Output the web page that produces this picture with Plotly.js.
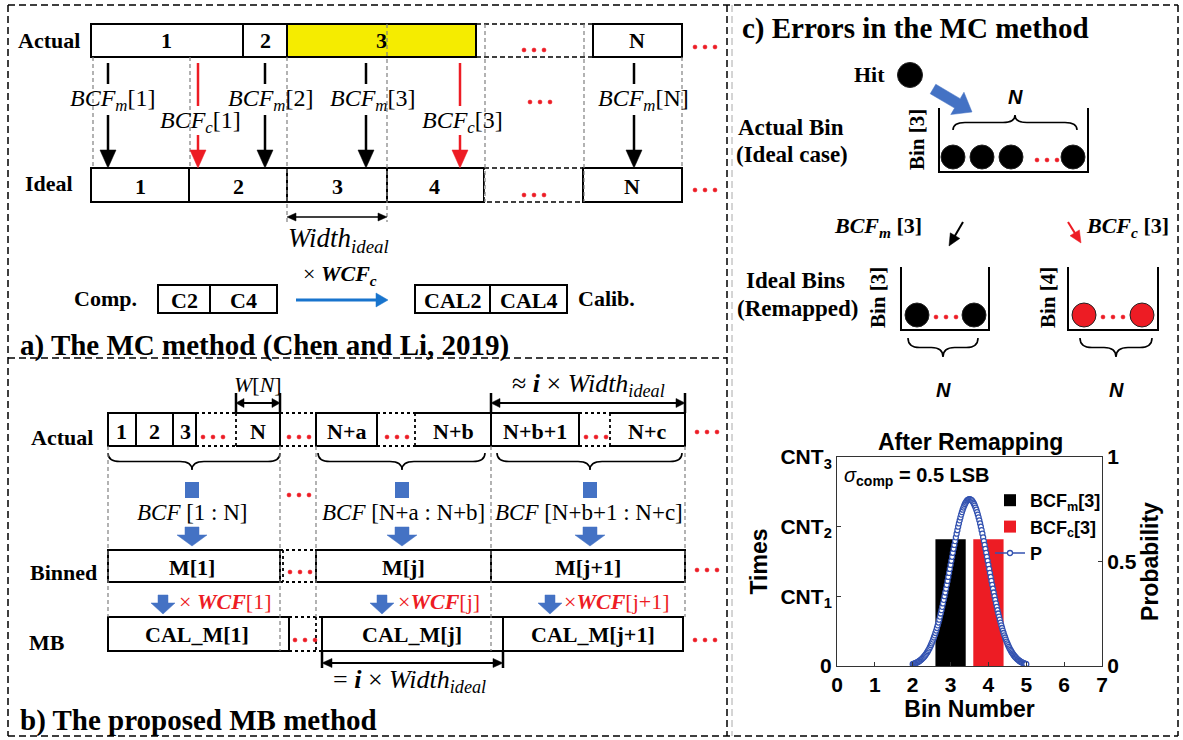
<!DOCTYPE html>
<html><head><meta charset="utf-8">
<script src="https://cdn.plot.ly/plotly-3.0.1.min.js"></script>
<style>html,body{margin:0;padding:0;background:#fff}</style>
</head><body><div id="chart" style="width:1183px;height:740px"></div>
<script>
// ---------------- chart data (panel c, "After Remapping") ----------------
const barNames = ['BCF<sub>m</sub>[3]', 'BCF<sub>c</sub>[3]'];
const barBins = [3, 4];
const barTimes = [1.82, 1.82];
const xTicks = [0, 1, 2, 3, 4, 5, 6, 7];
const timesTickVals = [0, 1, 2, 3];
const timesTickText = ['0', 'CNT<sub>1</sub>', 'CNT<sub>2</sub>', 'CNT<sub>3</sub>'];
const probTickVals = [0, 0.5, 1];
const probTickText = ['0', '0.5', '1'];
const pName = 'P';
const pBins = [
2,2.02,2.04,2.06,2.08,2.1,2.12,2.14,2.16,2.18,
2.2,2.22,2.24,2.26,2.28,2.3,2.32,2.34,2.36,2.38,
2.4,2.42,2.44,2.46,2.48,2.5,2.52,2.54,2.56,2.58,
2.6,2.62,2.64,2.66,2.68,2.7,2.72,2.74,2.76,2.78,
2.8,2.82,2.84,2.86,2.88,2.9,2.92,2.94,2.96,2.98,
3,3.02,3.04,3.06,3.08,3.1,3.12,3.14,3.16,3.18,
3.2,3.22,3.24,3.26,3.28,3.3,3.32,3.34,3.36,3.38,
3.4,3.42,3.44,3.46,3.48,3.5,3.52,3.54,3.56,3.58,
3.6,3.62,3.64,3.66,3.68,3.7,3.72,3.74,3.76,3.78,
3.8,3.82,3.84,3.86,3.88,3.9,3.92,3.94,3.96,3.98,
4,4.02,4.04,4.06,4.08,4.1,4.12,4.14,4.16,4.18,
4.2,4.22,4.24,4.26,4.28,4.3,4.32,4.34,4.36,4.38,
4.4,4.42,4.44,4.46,4.48,4.5,4.52,4.54,4.56,4.58,
4.6,4.62,4.64,4.66,4.68,4.7,4.72,4.74,4.76,4.78,
4.8,4.82,4.84,4.86,4.88,4.9,4.92,4.94,4.96,4.98,
5];
const pValues = [
0.0089,0.0100,0.0112,0.0126,0.0141,0.0158,0.0177,0.0197,0.0220,0.0245,
0.0272,0.0301,0.0333,0.0368,0.0407,0.0448,0.0493,0.0541,0.0593,0.0649,
0.0709,0.0774,0.0843,0.0917,0.0996,0.1080,0.1169,0.1263,0.1363,0.1468,
0.1579,0.1696,0.1818,0.1946,0.2079,0.2218,0.2363,0.2513,0.2669,0.2829,
0.2995,0.3165,0.3339,0.3517,0.3699,0.3884,0.4071,0.4261,0.4453,0.4646,
0.4839,0.5033,0.5226,0.5417,0.5607,0.5794,0.5977,0.6157,0.6332,0.6501,
0.6664,0.6821,0.6970,0.7111,0.7243,0.7365,0.7478,0.7581,0.7672,0.7752,
0.7821,0.7877,0.7922,0.7953,0.7972,0.7979,0.7972,0.7953,0.7922,0.7877,
0.7821,0.7752,0.7672,0.7581,0.7478,0.7365,0.7243,0.7111,0.6970,0.6821,
0.6664,0.6501,0.6332,0.6157,0.5977,0.5794,0.5607,0.5417,0.5226,0.5033,
0.4839,0.4646,0.4453,0.4261,0.4071,0.3884,0.3699,0.3517,0.3339,0.3165,
0.2995,0.2829,0.2669,0.2513,0.2363,0.2218,0.2079,0.1946,0.1818,0.1696,
0.1579,0.1468,0.1363,0.1263,0.1169,0.1080,0.0996,0.0917,0.0843,0.0774,
0.0709,0.0649,0.0593,0.0541,0.0493,0.0448,0.0407,0.0368,0.0333,0.0301,
0.0272,0.0245,0.0220,0.0197,0.0177,0.0158,0.0141,0.0126,0.0112,0.0100,
0.0089];

// ---------------- styles ----------------
const W = 1183, H = 740;
const SERIF = '"Liberation Serif", "Times New Roman", serif';
const SANS = '"Liberation Sans", Arial, sans-serif';
const BLK = '#000000', RED = '#ed1c24', BLUE = '#4472c4', BLUE2 = '#1874cd', GREY = '#808080', YEL = '#f5ec00', PBLUE = '#3352b0';
const barColors = [BLK, RED];

const X = x => x / W, Y = y => 1 - y / H;
const pt = (x, y) => X(x).toFixed(5) + ',' + Y(y).toFixed(5);
const shapes = [], ann = [];

function line(x0, y0, x1, y1, c, w, dash) {
  shapes.push({type:'line', xref:'paper', yref:'paper', x0:X(x0), y0:Y(y0), x1:X(x1), y1:Y(y1),
    line:{color:c||BLK, width:w||2, dash:dash||'solid'}});
}
function rect(x0, y0, x1, y1, fill, c, w, dash) {
  shapes.push({type:'rect', xref:'paper', yref:'paper', x0:X(x0), y0:Y(y0), x1:X(x1), y1:Y(y1),
    fillcolor:fill||'white', line:{color:c||BLK, width:(w===undefined?2:w), dash:dash||'solid'}});
}
function poly(pts, fill) {
  shapes.push({type:'path', xref:'paper', yref:'paper', path:'M' + pts.map(p => pt(p[0], p[1])).join(' L') + ' Z',
    fillcolor:fill, line:{color:fill, width:0.5}});
}
function pline(pts, c, w) {
  shapes.push({type:'path', xref:'paper', yref:'paper', path:'M' + pts.map(p => pt(p[0], p[1])).join(' L'),
    fillcolor:'rgba(0,0,0,0)', line:{color:c||BLK, width:w||2}});
}
function circ(cx, cy, r, fill) {
  shapes.push({type:'circle', xref:'paper', yref:'paper', x0:X(cx-r), x1:X(cx+r), y0:Y(cy+r), y1:Y(cy-r),
    fillcolor:fill, line:{color:'#222', width:1}});
}
function dots(cx, cy) {
  [-10, 0, 10].forEach(d => shapes.push({type:'circle', xref:'paper', yref:'paper',
    x0:X(cx+d-2), x1:X(cx+d+2), y0:Y(cy+2), y1:Y(cy-2), fillcolor:RED, line:{color:RED, width:0.5}}));
}
function arrow(x0, y0, x1, y1, c, w, hl, hw) {
  const dx = x1-x0, dy = y1-y0, L = Math.hypot(dx, dy), ux = dx/L, uy = dy/L;
  const bx = x1-ux*hl, by = y1-uy*hl;
  line(x0, y0, bx + ux*1, by + uy*1, c, w);
  poly([[x1, y1], [bx - uy*hw/2, by + ux*hw/2], [bx + uy*hw/2, by - ux*hw/2]], c);
}
function darrowH(x0, x1, y, c, w, hl, hw) {
  line(x0+hl-1, y, x1-hl+1, y, c, w);
  poly([[x0, y], [x0+hl, y-hw/2], [x0+hl, y+hw/2]], c);
  poly([[x1, y], [x1-hl, y-hw/2], [x1-hl, y+hw/2]], c);
}
function blockArrow(x0, y0, x1, y1, sw, hw, hl, c) {
  const dx = x1-x0, dy = y1-y0, L = Math.hypot(dx, dy), ux = dx/L, uy = dy/L, px = -uy, py = ux;
  const bx = x1-ux*hl, by = y1-uy*hl;
  poly([[x0+px*sw/2, y0+py*sw/2], [bx+px*sw/2, by+py*sw/2], [bx+px*hw/2, by+py*hw/2], [x1, y1],
        [bx-px*hw/2, by-py*hw/2], [bx-px*sw/2, by-py*sw/2], [x0-px*sw/2, y0-py*sw/2]], c);
}
function brace(xa, xb, xm, y0, yt, w) {
  const ym = (y0+yt)/2, q = Math.min(12, (xm-xa)/3, (xb-xm)/3);
  const path = 'M' + pt(xa, y0) + ' Q' + pt(xa, ym) + ' ' + pt(xa+q, ym) + ' L' + pt(xm-q, ym) +
    ' Q' + pt(xm, ym) + ' ' + pt(xm, yt) + ' Q' + pt(xm, ym) + ' ' + pt(xm+q, ym) +
    ' L' + pt(xb-q, ym) + ' Q' + pt(xb, ym) + ' ' + pt(xb, y0);
  shapes.push({type:'path', xref:'paper', yref:'paper', path, fillcolor:'rgba(0,0,0,0)', line:{color:BLK, width:w||1.6}});
}
function T(x, y, text, size, o) {
  o = o || {};
  ann.push({xref:'paper', yref:'paper', x:X(x), y:Y(y), text, showarrow:false,
    xanchor:o.xa||'center', yanchor:o.ya||'middle', textangle:o.rot||0,
    font:{family:o.fam||SERIF, size, color:o.c||BLK}});
}
const gl = (x, y0, y1) => line(x, y0, x, y1, GREY, 1.2, '4px,3px');
const dotted = (x0, y0, x1, y1) => line(x0, y0, x1, y1, BLK, 1.8, 'dot');

// ---------------- panel frames ----------------
const FD = '7px,4px';
line(8, 5, 1178, 5, BLK, 1.5, FD);
line(8, 5, 8, 736, BLK, 1.5, FD);
line(8, 736, 1178, 736, BLK, 1.5, FD);
line(1178, 5, 1178, 736, BLK, 1.5, FD);
line(8, 358, 727, 358, BLK, 1.5, FD);
line(727, 5, 727, 736, BLK, 1.5, FD);
line(732, 5, 732, 736, '#aaaaaa', 1, FD);

// ---------------- panel a ----------------
T(49, 40, '<b>Actual</b>', 22);
T(49, 183, '<b>Ideal</b>', 22);
rect(91, 24, 243, 57); rect(243, 24, 287, 57); rect(287, 24, 476, 57, YEL);
line(476, 24, 593, 24, BLK, 1.5, '5px,3px'); line(476, 57, 593, 57, BLK, 1.5, '5px,3px');
rect(593, 24, 682, 57);
T(167, 41, '<b>1</b>', 22); T(265, 41, '<b>2</b>', 22); T(381, 41, '<b>3</b>', 22); T(637, 41, '<b>N</b>', 22);
rect(91, 168, 189, 202); rect(189, 168, 287, 202); rect(287, 168, 387, 202); rect(387, 168, 484, 202);
rect(484, 168, 583, 202, 'white', BLK, 1.5, '5px,3px');
rect(583, 168, 682, 202);
T(140, 186, '<b>1</b>', 22); T(238, 186, '<b>2</b>', 22); T(337, 186, '<b>3</b>', 22); T(435, 186, '<b>4</b>', 22); T(632, 186, '<b>N</b>', 22);
gl(93, 57, 168); gl(190, 57, 168); gl(287, 57, 222); gl(387, 24, 222); gl(485, 24, 202); gl(584, 24, 202); gl(682, 57, 168);
[108, 265, 366, 634].forEach(x => { line(x, 63, x, 84, BLK, 2.5); arrow(x, 115, x, 168, BLK, 2.5, 18, 16); });
[198, 460].forEach(x => { line(x, 63, x, 106, RED, 2.5); arrow(x, 135, x, 168, RED, 2.5, 18, 16); });
T(112, 100, '<i>BCF</i><sub><i>m</i></sub>[1]', 24);
T(270, 100, '<i>BCF</i><sub><i>m</i></sub>[2]', 24);
T(372, 100, '<i>BCF</i><sub><i>m</i></sub>[3]', 24);
T(643, 100, '<i>BCF</i><sub><i>m</i></sub>[N]', 24);
T(200, 122, '<i>BCF</i><sub><i>c</i></sub>[1]', 24);
T(462, 122, '<i>BCF</i><sub><i>c</i></sub>[3]', 24);
dots(534, 50); dots(540, 102); dots(534, 195); dots(705, 47); dots(705, 190);
darrowH(287, 387, 217, BLK, 1.5, 9, 8);
T(338, 240, '<i>Width</i><sub><i>ideal</i></sub>', 27);
T(105, 298, '<b>Comp.</b>', 22);
rect(158, 285, 210, 313); rect(210, 285, 277, 313);
T(184, 300, '<b>C2</b>', 22); T(243, 300, '<b>C4</b>', 22);
arrow(296, 300, 388, 300, BLUE2, 3, 12, 14);
T(340, 275, '× <b><i>WCF</i></b><sub><b><i>c</i></b></sub>', 22);
rect(415, 285, 490, 313); rect(490, 285, 567, 313);
T(452, 300, '<b>CAL2</b>', 22); T(528, 300, '<b>CAL4</b>', 22);
T(606, 298, '<b>Calib.</b>', 22);
T(18, 345, '<b>a) The MC method (Chen and Li, 2019)</b>', 29, {xa:'left'});

// ---------------- panel b ----------------
T(62, 438, '<b>Actual</b>', 22); T(64, 572, '<b>Binned</b>', 22); T(47, 642, '<b>MB</b>', 22);
rect(108, 413, 136, 446); rect(136, 413, 173, 446); rect(173, 413, 196, 446);
T(122, 431, '<b>1</b>', 22); T(155, 431, '<b>2</b>', 22); T(185, 431, '<b>3</b>', 22);
dotted(196, 413, 236, 413); dotted(196, 446, 236, 446); dots(213, 437);
pline([[236, 413], [280, 413], [280, 446], [236, 446]]); dotted(236, 413, 236, 446);
T(258, 431, '<b>N</b>', 22);
dotted(280, 413, 316, 413); dotted(280, 446, 316, 446); dots(299, 437);
rect(316, 413, 377, 446); T(346, 431, '<b>N+a</b>', 22);
dotted(377, 413, 415, 413); dotted(377, 446, 415, 446); dots(397, 437);
pline([[415, 413], [491, 413], [491, 446], [415, 446]]); dotted(415, 413, 415, 446);
T(453, 431, '<b>N+b</b>', 22);
rect(491, 413, 579, 446); T(535, 431, '<b>N+b+1</b>', 22);
dotted(579, 413, 610, 413); dotted(579, 446, 610, 446); dots(596, 437);
pline([[610, 413], [685, 413], [685, 446], [610, 446]]); dotted(610, 413, 610, 446);
T(647, 431, '<b>N+c</b>', 22);
dots(707, 432);
line(236, 393, 236, 413, BLK, 2.5); line(280, 393, 280, 413, BLK, 2.5);
darrowH(236, 280, 403, BLK, 2, 8, 9);
T(258, 384, '<i>W</i>[<i>N</i>]', 22);
line(491, 393, 491, 413, BLK, 2.5); line(685, 393, 685, 413, BLK, 2.5);
darrowH(491, 685, 403, BLK, 2, 9, 9);
T(588, 385, '≈ <b><i>i</i></b> × <i>Width</i><sub><i>ideal</i></sub>', 26);
brace(108, 280, 192, 453, 470); brace(318, 485, 402, 453, 470); brace(497, 682, 590, 453, 470);
[192, 402, 590].forEach(cx => {
  rect(cx-7, 482, cx+7, 498, BLUE, BLUE, 0);
  poly([[cx-7, 527], [cx+7, 527], [cx+7, 535], [cx+15, 535], [cx, 546], [cx-15, 535], [cx-7, 535]], BLUE);
});
T(192, 512, '<i>BCF</i> [1 : N]', 23);
T(403, 512, '<i>BCF</i> [N+a : N+b]', 23);
T(589, 512, '<i>BCF</i> [N+b+1 : N+c]', 23);
dots(299, 495);
rect(108, 550, 280, 582); T(192, 567, '<b>M[1]</b>', 22);
dotted(280, 550, 316, 550); dotted(280, 582, 316, 582); dotted(283, 550, 283, 582); dots(300, 572);
rect(316, 550, 491, 582); T(403, 567, '<b>M[j]</b>', 22);
rect(491, 550, 685, 582); T(588, 567, '<b>M[j+1]</b>', 22);
dots(707, 570);
[163, 382, 550].forEach(cx => {
  poly([[cx-5, 595], [cx+5, 595], [cx+5, 603], [cx+12, 603], [cx, 614], [cx-12, 603], [cx-5, 603]], BLUE);
});
T(177, 601, '× <b><i>WCF</i></b>[1]', 22, {xa:'left', c:RED});
T(396, 601, '×<b><i>WCF</i></b>[j]', 22, {xa:'left', c:RED});
T(562, 601, '×<b><i>WCF</i></b>[j+1]', 22, {xa:'left', c:RED});
rect(108, 617, 289, 651); T(197, 634, '<b>CAL_M[1]</b>', 22);
dotted(289, 617, 322, 617); dotted(289, 651, 322, 651); dotted(316, 617, 316, 651); dots(305, 640);
rect(322, 617, 503, 651); T(412, 634, '<b>CAL_M[j]</b>', 22);
rect(503, 617, 683, 651); T(593, 634, '<b>CAL_M[j+1]</b>', 22);
dots(705, 640);
gl(108, 446, 617); gl(280, 446, 651); gl(316, 446, 617); gl(491, 446, 651); gl(685, 446, 617);
line(322, 651, 322, 668, BLK, 2.5); line(503, 651, 503, 668, BLK, 2.5);
darrowH(322, 503, 663, BLK, 2, 10, 9);
T(409, 681, '= <b><i>i</i></b> × <i>Width</i><sub><i>ideal</i></sub>', 26);
T(18, 720, '<b>b) The proposed MB method</b>', 29, {xa:'left'});

// ---------------- panel c diagram ----------------
T(740, 28, '<b>c) Errors in the MC method</b>', 29, {xa:'left'});
T(870, 75, '<b>Hit</b>', 22); circ(910, 75, 12.5, BLK);
blockArrow(933, 89, 972, 112, 11, 26, 17, BLUE);
T(1015, 97, '<b><i>N</i></b>', 20, {fam:SANS});
brace(953, 1077, 1015, 130, 115);
pline([[939, 108], [939, 172], [1088, 172], [1088, 108]], BLK, 2);
T(917, 140, '<b>Bin [3]</b>', 21, {rot:-90});
[953, 982, 1011, 1073].forEach(cx => circ(cx, 157, 12, BLK));
dots(1047, 160);
T(791, 127, '<b>Actual Bin</b>', 23); T(792, 155, '<b>(Ideal case)</b>', 23);
T(878, 227, '<b><i>BCF</i></b><sub><b><i>m</i></b></sub><b> [3]</b>', 22);
arrow(963, 222, 949, 246, BLK, 2, 12, 11);
arrow(1068, 222, 1081, 243, RED, 2, 12, 11);
T(1127, 227, '<b><i>BCF</i></b><sub><b><i>c</i></b></sub><b> [3]</b>', 22);
T(795, 280, '<b>Ideal Bins</b>', 23); T(797, 308, '<b>(Remapped)</b>', 23);
pline([[901, 267], [901, 330], [989, 330], [989, 267]], BLK, 2);
T(878, 298, '<b>Bin [3]</b>', 21, {rot:-90});
circ(917, 315, 12, BLK); circ(974, 315, 12, BLK); dots(946, 317);
brace(908, 978, 943, 338, 357); T(943, 390, '<b><i>N</i></b>', 20, {fam:SANS});
pline([[1068, 267], [1068, 330], [1158, 330], [1158, 267]], BLK, 2);
T(1048, 298, '<b>Bin [4]</b>', 21, {rot:-90});
circ(1084, 315, 12, RED); circ(1142, 315, 12, RED); dots(1113, 317);
brace(1080, 1152, 1116, 338, 357); T(1116, 390, '<b><i>N</i></b>', 20, {fam:SANS});

// chart texts
T(970, 442, '<b>After Remapping</b>', 23, {fam:SANS});
T(842, 476, '<i>σ</i><sub><b>comp</b></sub><b> = 0.5 LSB</b>', 20, {fam:SANS, xa:'left'});

// ---------------- traces ----------------
const traces = barBins.map((b, i) => ({
  type:'bar', x:[b], y:[barTimes[i]], width:0.8, name:barNames[i],
  marker:{color:barColors[i], line:{width:0}}, xaxis:'x', yaxis:'y'
}));
traces.push({
  type:'scatter', mode:'lines+markers', x:pBins, y:pValues, name:pName, xaxis:'x', yaxis:'y2',
  line:{color:PBLUE, width:1.5},
  marker:{symbol:'circle', size:5, color:'white', line:{color:PBLUE, width:1.3}}
});

const axFont = {family:SANS, size:21, color:BLK, weight:'bold'};
const tiFont = {family:SANS, size:23, color:BLK, weight:'bold'};
const layout = {
  width:W, height:H, margin:{l:0, r:0, t:0, b:0},
  paper_bgcolor:'white', plot_bgcolor:'white',
  font:{family:SANS, color:BLK},
  showlegend:true,
  legend:{x:X(990), y:Y(482), xanchor:'left', yanchor:'top', bgcolor:'rgba(0,0,0,0)',
    font:{family:SANS, size:18, color:BLK, weight:'bold'}, itemwidth:30, tracegroupgap:0},
  barmode:'overlay',
  xaxis:{domain:[X(837), X(1102)], range:[0, 7], tickvals:xTicks, ticktext:xTicks.map(String),
    showline:true, mirror:true, linecolor:'#333', linewidth:1, ticks:'inside', ticklen:4, tickcolor:'#333',
    showgrid:false, zeroline:false, tickfont:axFont, anchor:'y', fixedrange:true,
    title:{text:'Bin Number', font:tiFont, standoff:4}},
  yaxis:{domain:[Y(666), Y(457)], range:[0, 3], tickvals:timesTickVals, ticktext:timesTickText,
    showline:true, linecolor:'#333', linewidth:1, ticks:'inside', ticklen:4, tickcolor:'#333',
    showgrid:false, zeroline:false, tickfont:axFont, anchor:'x', fixedrange:true,
    title:{text:'Times', font:tiFont, standoff:6}},
  yaxis2:{overlaying:'y', side:'right', anchor:'x', range:[0, 1], tickvals:probTickVals, ticktext:probTickText,
    showline:true, linecolor:'#333', linewidth:1, ticks:'inside', ticklen:4, tickcolor:'#333',
    showgrid:false, zeroline:false, tickfont:axFont, fixedrange:true,
    title:{text:'Probability', font:tiFont, standoff:6}},
  shapes, annotations:ann
};
Plotly.newPlot('chart', traces, layout, {staticPlot:true, displayModeBar:false});
</script></body></html>
